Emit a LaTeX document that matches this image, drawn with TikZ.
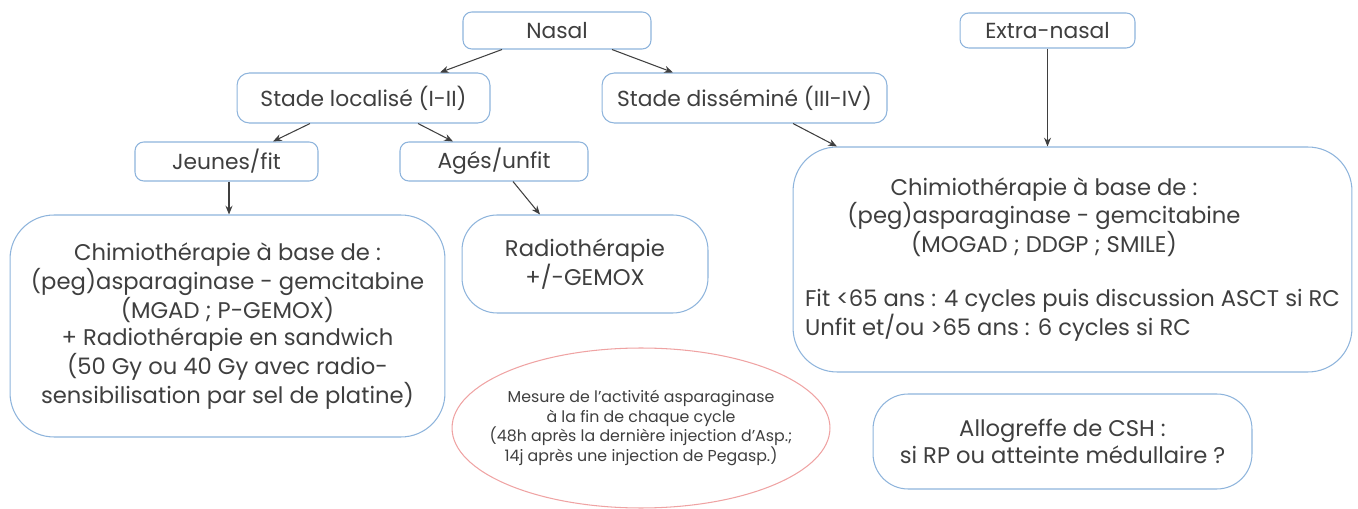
\documentclass[tikz,border=0pt]{standalone}
\usepackage{fontspec}
\setmainfont{Poppins}
\usetikzlibrary{shapes.geometric,arrows.meta,calc}
\definecolor{boxblue}{HTML}{8EB4DC}
\definecolor{ovalred}{HTML}{EFA3A3}
\definecolor{txtgray}{HTML}{3F3F3F}
\begin{document}
\begin{tikzpicture}[x=0.02cm,y=-0.02cm,
  box/.style={draw=boxblue,line width=0.6pt,fill=white,text=txtgray,
    align=center,inner sep=0pt,rounded corners=#1},
  box/.default=5pt,
  small/.style={font=\fontsize{12.4}{14}\selectfont},
  big/.style={font=\fontsize{12.9}{15.3}\selectfont},
  arr/.style={-{Stealth[length=5pt,width=4pt]},draw=txtgray,line width=0.6pt}]
  \useasboundingbox (0,0) rectangle (1358,509);
  % Nasal
  \node[box,small,minimum width=3.76cm,minimum height=0.74cm] (nasal) at (557,30.5) {Nasal};
  \node[box=7pt,small,minimum width=5.06cm,minimum height=1cm] (loc) at (363.5,98) {Stade localisé (I-II)};
  \node[box=7pt,small,minimum width=5.7cm,minimum height=1cm] (diss) at (744.5,98) {Stade disséminé (III-IV)};
  \node[box,small,minimum width=3.66cm,minimum height=0.78cm] (jeunes) at (226.5,161.5) {Jeunes/fit};
  \node[box,small,minimum width=3.76cm,minimum height=0.78cm] (ages) at (494,161.5) {Agés/unfit};
  \node[box=25pt,big,minimum width=8.7cm,minimum height=4.44cm] (chimioloc) at (227.5,326)
    {Chimiothérapie à base de :\\(peg)asparaginase - gemcitabine\\(MGAD ; P-GEMOX)\\
     + Radiothérapie en sandwich\\(50 Gy ou 40 Gy avec radio-\\sensibilisation par sel de platine)};
  \node[box=20pt,big,minimum width=4.92cm,minimum height=1.96cm] (radio) at (585,264) {Radiothérapie\\+/-GEMOX};
  % Extra-nasal
  \node[box,small,minimum width=3.5cm,minimum height=0.7cm] (extra) at (1047.5,30.5) {Extra-nasal};
  \node[box=25pt,big,align=left,minimum width=11.18cm,minimum height=4.5cm] (chimiodiss) at (1072.5,259.5)
    {\makebox[9.56cm]{Chimiothérapie à base de :}\\\makebox[9.56cm]{(peg)asparaginase - gemcitabine}\\
     \makebox[9.56cm]{(MOGAD ; DDGP ; SMILE)}\\[15.3pt]
     Fit <65 ans : 4 cycles puis discussion ASCT si RC\\Unfit et/ou >65 ans : 6 cycles si RC};
  \node[box=20pt,big,minimum width=7.58cm,minimum height=1.9cm] (allo) at (1062.5,441.5)
    {Allogreffe de CSH :\\si RP ou atteinte médullaire ?};
  % Asparaginase
  \node[ellipse,draw=ovalred,line width=0.6pt,text=txtgray,align=center,inner ysep=0pt,inner xsep=-14pt,
    minimum width=7.56cm,minimum height=3.2cm,font=\fontsize{9}{11.3}\selectfont] (asp) at (641,428)
    {Mesure de l’activité asparaginase\\à la fin de chaque cycle\\(48h après la dernière injection d’Asp.;\\14j après une injection de Pegasp.)};
  % Arrows
  \draw[arr] ($(nasal.south)+(-55,0)$) -- ($(loc.north)+(76.5,0)$);
  \draw[arr] ($(nasal.south)+(55,0)$) -- ($(diss.north)+(-71.5,0)$);
  \draw[arr] ($(loc.south)+(-53.5,0)$) -- ($(jeunes.north)+(46.5,0)$);
  \draw[arr] ($(loc.south)+(54.5,0)$) -- ($(ages.north)+(-41,0)$);
  \draw[arr] ($(jeunes.south)+(2.5,0)$) -- ($(chimioloc.north)+(1.5,0)$);
  \draw[arr] ($(ages.south)+(19,0)$) -- ($(radio.north)+(-45,0)$);
  \draw[arr] ($(diss.south)+(48.5,0)$) -- ($(chimiodiss.north)+(-235.5,0)$);
  \draw[arr] (extra.south) -- (extra.south |- chimiodiss.north);
\end{tikzpicture}
\end{document}
